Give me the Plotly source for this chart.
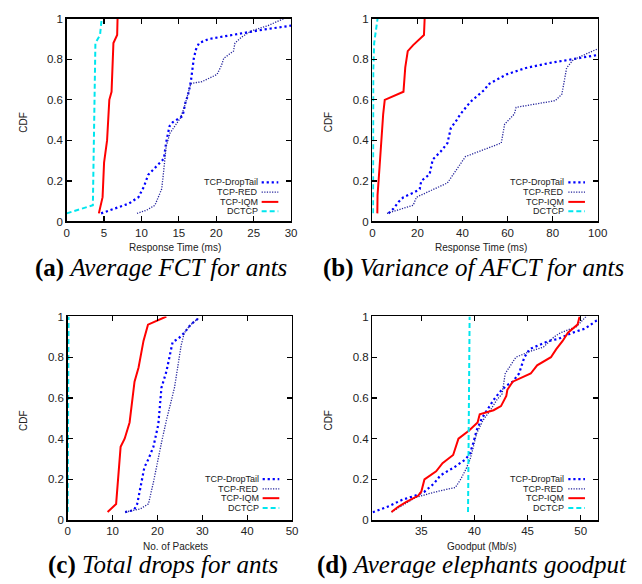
import plotly.graph_objects as go

W, H = 642, 584

# ---------------- data ----------------
# (a) Average FCT for ants
a_droptail_x = [4.6, 5.9, 8.3, 9.6, 10.3, 10.9, 12.0, 13.0, 13.3, 13.75, 14.2, 15.1, 15.5, 15.9, 16.2, 16.6, 16.8, 17.0, 17.3, 17.7, 19.0, 21.2, 23.8, 26.4, 29.5, 35.0]
a_droptail_y = [0.04, 0.057, 0.088, 0.12, 0.17, 0.23, 0.27, 0.31, 0.39, 0.47, 0.49, 0.51, 0.52, 0.59, 0.62, 0.69, 0.76, 0.805, 0.85, 0.88, 0.90, 0.915, 0.93, 0.947, 0.963, 1.0]
a_red_x = [9.4, 10.7, 11.8, 12.2, 12.7, 12.9, 13.1, 13.3, 13.8, 14.4, 15.2, 15.7, 16.1, 16.6, 18.1, 20.1, 20.7, 21.0, 22.3, 22.5, 23.4, 24.7, 26.9, 29.0]
a_red_y = [0.04, 0.056, 0.08, 0.113, 0.16, 0.225, 0.31, 0.37, 0.435, 0.47, 0.51, 0.56, 0.62, 0.68, 0.69, 0.725, 0.77, 0.805, 0.84, 0.88, 0.91, 0.94, 0.966, 1.0]
a_iqm_x = [4.3, 4.5, 4.8, 5.0, 5.3, 5.4, 5.7, 6.0, 6.25, 6.75, 6.8]
a_iqm_y = [0.04, 0.08, 0.12, 0.29, 0.36, 0.40, 0.60, 0.64, 0.88, 0.92, 1.0]
a_dctcp_x = [0.0, 3.5, 3.84, 4.46, 4.68]
a_dctcp_y = [0.04, 0.08, 0.88, 0.92, 1.0]

# (b) Variance of AFCT for ants
b_droptail_x = [7.2, 9.4, 11.6, 13.8, 18.8, 21.0, 21.7, 25.4, 26.8, 30.4, 33.3, 34.8, 37.4, 39.1, 43.5, 50.0, 51.4, 59.4, 68.1, 78.3, 87.0, 98.6, 110.0]
b_droptail_y = [0.04, 0.064, 0.096, 0.12, 0.145, 0.16, 0.2, 0.233, 0.306, 0.346, 0.386, 0.46, 0.5, 0.53, 0.59, 0.652, 0.676, 0.725, 0.757, 0.781, 0.797, 0.821, 0.84]
b_red_x = [6.5, 18.1, 19.6, 33.3, 41.3, 57.2, 58.7, 63.0, 63.8, 81.2, 84.1, 86.2, 89.1, 98.6, 105.0]
b_red_y = [0.04, 0.08, 0.12, 0.19, 0.32, 0.387, 0.48, 0.53, 0.563, 0.596, 0.628, 0.757, 0.797, 0.845, 0.87]
b_iqm_x = [2.2, 2.3, 3.2, 3.6, 4.3, 4.8, 5.5, 13.8, 14.6, 15.7, 18.1, 22.9, 23.2]
b_iqm_y = [0.04, 0.13, 0.27, 0.34, 0.48, 0.53, 0.60, 0.64, 0.76, 0.84, 0.87, 0.92, 1.0]
b_dctcp_x = [0.3, 0.4, 0.8, 1.5, 2.3]
b_dctcp_y = [0.04, 0.75, 0.88, 0.94, 1.0]

# (c) Total drops for ants
c_droptail_x = [12.8, 14.8, 15.5, 16.2, 17.1, 18.0, 19.1, 20.2, 20.9, 22.0, 23.4, 24.6, 26.0, 27.4, 29.1, 29.3]
c_droptail_y = [0.04, 0.05, 0.08, 0.16, 0.26, 0.3, 0.36, 0.47, 0.65, 0.73, 0.875, 0.89, 0.92, 0.96, 0.99, 1.0]
c_red_x = [12.9, 16.2, 18.0, 19.1, 20.9, 22.0, 23.8, 25.3, 26.0, 27.4, 29.1]
c_red_y = [0.04, 0.056, 0.08, 0.185, 0.38, 0.49, 0.65, 0.86, 0.92, 0.96, 0.99]
c_iqm_x = [8.9, 10.8, 11.8, 12.7, 13.8, 14.9, 15.8, 16.9, 17.9, 19.8, 22.0]
c_iqm_y = [0.04, 0.08, 0.36, 0.4, 0.48, 0.68, 0.75, 0.88, 0.96, 0.98, 1.0]
c_dctcp_x = [0.0, 0.2, 0.2]
c_dctcp_y = [0.04, 0.77, 1.0]

# (d) Average elephants goodput
d_droptail_x = [30.0, 32.0, 33.2, 34.4, 35.3, 36.2, 36.8, 38.1, 39.2, 39.6, 39.9, 40.2, 40.7, 41.3, 41.8, 42.4, 43.0, 43.6, 44.2, 44.7, 45.2, 46.1, 47.0, 47.9, 49.2, 50.4, 51.5, 52.5]
d_droptail_y = [0.03, 0.07, 0.1, 0.12, 0.14, 0.18, 0.22, 0.26, 0.3, 0.33, 0.38, 0.44, 0.5, 0.55, 0.59, 0.63, 0.66, 0.68, 0.72, 0.8, 0.84, 0.86, 0.88, 0.89, 0.92, 0.94, 0.98, 1.0]
d_red_x = [32.2, 33.5, 34.4, 35.7, 36.8, 38.2, 38.7, 39.2, 39.6, 39.9, 40.2, 40.8, 41.5, 42.1, 42.6, 42.9, 43.4, 43.9, 45.3, 46.5, 47.5, 48.1, 49.6, 50.2, 50.5]
d_red_y = [0.04, 0.08, 0.11, 0.13, 0.145, 0.16, 0.2, 0.25, 0.3, 0.36, 0.425, 0.49, 0.54, 0.59, 0.62, 0.72, 0.76, 0.8, 0.83, 0.85, 0.9, 0.92, 0.95, 0.98, 1.0]
d_iqm_x = [32.2, 32.8, 33.6, 34.7, 35.0, 35.3, 36.4, 37.0, 38.0, 38.5, 39.5, 40.3, 40.5, 41.8, 42.5, 43.0, 43.1, 43.6, 45.3, 45.9, 47.2, 47.7, 48.3, 48.8, 49.7, 49.9]
d_iqm_y = [0.04, 0.065, 0.09, 0.12, 0.14, 0.2, 0.24, 0.28, 0.32, 0.4, 0.44, 0.48, 0.52, 0.54, 0.56, 0.61, 0.64, 0.68, 0.72, 0.76, 0.8, 0.84, 0.88, 0.92, 0.96, 1.0]
d_dctcp_x = [39.4, 39.55]
d_dctcp_y = [0.04, 1.0]

series_names = ["TCP-DropTail", "TCP-RED", "TCP-IQM", "DCTCP"]
y_tickvals = [0, 0.2, 0.4, 0.6, 0.8, 1]
y_ticktext = ["0", "0.2", "0.4", "0.6", "0.8", "1"]
a_xticks = [0, 5, 10, 15, 20, 25, 30]
b_xticks = [0, 20, 40, 60, 80, 100]
c_xticks = [0, 10, 20, 30, 40, 50]
d_xticks = [35, 40, 45, 50]
x_titles = ["Response Time (ms)", "Response Time (ms)", "No. of Packets", "Goodput (Mb/s)"]
captions = [("(a)", "Average FCT for ants"), ("(b)", "Variance of AFCT for ants"),
            ("(c)", "Total drops for ants"), ("(d)", "Average elephants goodput")]

# ---------------- styles ----------------
styles = [
    dict(color="#0000ff", width=2.2, dash="2.2px,2.8px"),
    dict(color="#22229a", width=1.3, dash="1.2px,1.4px"),
    dict(color="#ff0000", width=2.0, dash="solid"),
    dict(color="#00e6ee", width=2.0, dash="5px,3px"),
]

# plot area boxes in pixels (left, right, top, bottom)
boxes = [(65, 294, 13, 220), (377, 607, 13, 220), (66, 295, 317, 525), (377, 607, 317, 525)]
xranges = [[0, 30], [0, 100], [0, 50], [30.4, 51.6]]
xticks = [a_xticks, b_xticks, c_xticks, d_xticks]

panels = [
    [(a_droptail_x, a_droptail_y), (a_red_x, a_red_y), (a_iqm_x, a_iqm_y), (a_dctcp_x, a_dctcp_y)],
    [(b_droptail_x, b_droptail_y), (b_red_x, b_red_y), (b_iqm_x, b_iqm_y), (b_dctcp_x, b_dctcp_y)],
    [(c_droptail_x, c_droptail_y), (c_red_x, c_red_y), (c_iqm_x, c_iqm_y), (c_dctcp_x, c_dctcp_y)],
    [(d_droptail_x, d_droptail_y), (d_red_x, d_red_y), (d_iqm_x, d_iqm_y), (d_dctcp_x, d_dctcp_y)],
]

def px(x):
    return x / W

def py(y):
    return 1 - y / H

fig = go.Figure()
layout = dict(width=W, height=H, margin=dict(l=0, r=0, t=0, b=0),
              paper_bgcolor="white", plot_bgcolor="white", showlegend=False)
annotations = []
shapes = []
sans = "Liberation Sans, Arial, sans-serif"
serif = "Liberation Serif, Times New Roman, serif"

for i, (box, series) in enumerate(zip(boxes, panels)):
    n = "" if i == 0 else str(i + 1)
    l, r, t, b = box
    for j, (xs, ys) in enumerate(series):
        st = styles[j]
        fig.add_trace(go.Scatter(x=xs, y=ys, mode="lines", name=series_names[j],
                                 xaxis="x" + n, yaxis="y" + n, hoverinfo="skip",
                                 line=dict(color=st["color"], width=st["width"], dash=st["dash"])))
    axis_common = dict(showgrid=False, zeroline=False, showline=True, linecolor="black",
                       linewidth=1.4, mirror="ticks", ticks="inside", ticklen=5, tickwidth=1.2,
                       tickcolor="black", tickfont=dict(family=sans, size=11.5, color="#222"),
                       fixedrange=True)
    layout["xaxis" + n] = dict(axis_common, domain=[px(l), px(r)], range=xranges[i],
                               tickvals=xticks[i], anchor="y" + n)
    layout["yaxis" + n] = dict(axis_common, domain=[py(b), py(t)], range=[0, 1],
                               tickvals=y_tickvals, ticktext=y_ticktext, anchor="x" + n)
    # axis titles
    annotations.append(dict(text=x_titles[i], x=px((l + r) / 2 - 4), y=py(b + 27), xref="paper", yref="paper",
                            showarrow=False, font=dict(family=sans, size=10, color="#222"),
                            xanchor="center", yanchor="middle"))
    annotations.append(dict(text="CDF", x=px(l - 45), y=py((t + b) / 2 + 2), xref="paper", yref="paper",
                            showarrow=False, textangle=-90, font=dict(family=sans, size=10, color="#222"),
                            xanchor="center", yanchor="middle"))
    # caption
    cap_x = [161, 480, 163, 479][i]
    cap_y = [268, 268, 571, 571][i]
    lab, txt = captions[i]
    annotations.append(dict(text="<b>%s</b> <i>%s</i>" % (lab, txt), x=px(cap_x), y=py(cap_y),
                            xref="paper", yref="paper", showarrow=False, borderpad=0,
                            font=dict(family=serif, size=25, color="black"),
                            xanchor="center", yanchor="middle"))
    # legend (gnuplot style: text right aligned, sample on right)
    row_offsets = [40, 30, 20, 10.5] if i < 2 else [42, 32, 22.5, 12.5]
    for j, off in enumerate(row_offsets):
        yy = b - off
        annotations.append(dict(text=series_names[j], x=px(r - 33), y=py(yy), xref="paper", yref="paper",
                                showarrow=False, borderpad=0, font=dict(family=sans, size=9, color="#222"),
                                xanchor="right", yanchor="middle"))
        st = styles[j]
        shapes.append(dict(type="line", xref="paper", yref="paper",
                           x0=px(r - 30), x1=px(r - 13), y0=py(yy), y1=py(yy),
                           line=dict(color=st["color"], width=st["width"], dash=st["dash"])))

layout["annotations"] = annotations
layout["shapes"] = shapes
fig.update_layout(**layout)
fig.write_html("out.html", config={"displayModeBar": False, "staticPlot": True},
               post_script="document.body.style.margin='0px';document.body.style.overflow='hidden';")
